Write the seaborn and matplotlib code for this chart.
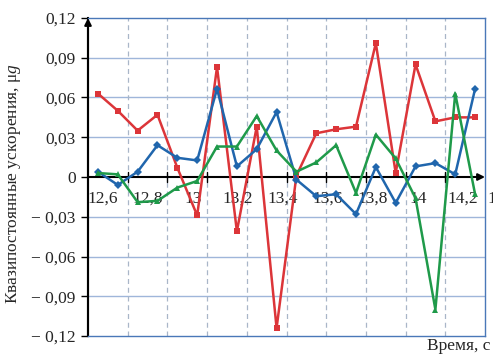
import numpy as np
import pandas as pd
import seaborn as sns
import matplotlib.pyplot as plt

# Данные
time = [12.45, 12.55, 12.65, 12.75, 12.85, 12.95, 13.05, 13.15, 13.25, 13.35,
        13.45, 13.55, 13.65, 13.75, 13.85, 13.95, 14.05, 14.15, 14.25, 14.35]
red = [0.063, 0.050, 0.035, 0.047, 0.007, -0.029, 0.083, -0.041, 0.038, -0.114,
       0.001, 0.033, 0.036, 0.038, 0.101, 0.003, 0.085, 0.042, 0.045, 0.045]
blue = [0.004, -0.006, 0.004, 0.024, 0.0145, 0.0125, 0.0665, 0.008, 0.021, 0.049,
        -0.002, -0.0145, -0.013, -0.028, 0.0075, -0.0195, 0.008, 0.0105, 0.002, 0.0665]
green = [0.003, 0.002, -0.019, -0.018, -0.008, -0.003, 0.023, 0.023, 0.046, 0.020,
         0.004, 0.011, 0.024, -0.012, 0.032, 0.014, -0.016, -0.100, 0.063, -0.013]

xticks = [12.6, 12.8, 13.0, 13.2, 13.4, 13.6, 13.8, 14.0, 14.2]
xtick_labels = ['12,6', '12,8', '13', '13,2', '13,4', '13,6', '13,8', '14', '14,2']
yticks = [-0.12, -0.09, -0.06, -0.03, 0, 0.03, 0.06, 0.09, 0.12]
ytick_labels = ['\u2212 0,12', '\u2212 0,09', '\u2212 0,06', '\u2212 0,03', '0',
                '0,03', '0,06', '0,09', '0,12']

df = pd.DataFrame({'t': time * 3,
                   'a': red + blue + green,
                   's': ['r'] * 20 + ['b'] * 20 + ['g'] * 20})

sns.set_style('white')
plt.rcParams['font.family'] = ['Liberation Serif', 'DejaVu Serif']
plt.rcParams['mathtext.fontset'] = 'custom'
plt.rcParams['mathtext.it'] = 'Liberation Serif:italic'
plt.rcParams['mathtext.rm'] = 'Liberation Serif'

fig = plt.figure(figsize=(4.93, 3.57), dpi=100)
ax = fig.add_axes([0.1785, 0.0588, 0.8053, 0.8908])

pal = {'r': '#dc3539', 'b': '#2066ad', 'g': '#1f9a4a'}
mk = {'r': 's', 'b': 'D', 'g': '^'}
sns.lineplot(data=df, x='t', y='a', hue='s', style='s', palette=pal,
             markers=mk, dashes=False, markersize=4, markeredgewidth=0,
             linewidth=1.8, legend=False, ax=ax, zorder=3)

ax.set_xlim(12.4, 14.4)
ax.set_ylim(-0.12, 0.12)

# сетка
for y in yticks[1:-1]:
    if y != 0:
        ax.axhline(y, color='#9fb6da', lw=1, zorder=1)
for x in xticks:
    ax.axvline(x, color='#a9b6c8', lw=0.9, ls=(0, (4, 3)), zorder=1)

# рамка
for s in ['top', 'right', 'bottom']:
    ax.spines[s].set_color('#4a78b8')
    ax.spines[s].set_linewidth(1)
ax.spines['left'].set_color('black')
ax.spines['left'].set_linewidth(1.5)

# оси со стрелками
ax.annotate('', xy=(14.4, 0), xytext=(12.4, 0),
            arrowprops=dict(arrowstyle='-|>', color='black', lw=1.5,
                            mutation_scale=10, shrinkA=0, shrinkB=0), zorder=2)
ax.annotate('', xy=(12.4, 0.12), xytext=(12.4, -0.12),
            arrowprops=dict(arrowstyle='-|>', color='black', lw=1.5,
                            mutation_scale=10, shrinkA=0, shrinkB=0),
            annotation_clip=False, zorder=2)

ax.set_yticks(yticks)
ax.set_yticklabels(ytick_labels, fontsize=12.5)
ax.tick_params(axis='y', direction='out', length=5, width=1, color='black', pad=4, left=True)

ax.set_xticks(xticks)
ax.set_xticklabels([])
ax.tick_params(axis='x', bottom=False)
for x in xticks:
    ax.plot([x, x], [-0.0035, 0.0035], color='black', lw=1, zorder=2)
# подписи по оси времени идут с собственным шагом, как в оригинале
label_x = np.linspace(12.476, 14.289, len(xtick_labels))
for x, lab in zip(label_x, xtick_labels):
    ax.text(x, -0.0105, lab, ha='center', va='top', fontsize=12.5, zorder=2)
ax.text(14.41, -0.0105, '14,4', ha='left', va='top', fontsize=12.5,
        clip_on=False, zorder=2)

ax.set_xlabel('')
ax.set_ylabel('')
fig.text(0.028, 0.485, 'Квазипостоянные ускорения, μ$g$', rotation=90,
         ha='center', va='center', fontsize=12.5)
fig.text(0.994, 0.03, 'Время, с', ha='right', va='center', fontsize=12.5)

plt.savefig('out.png', dpi=100)
